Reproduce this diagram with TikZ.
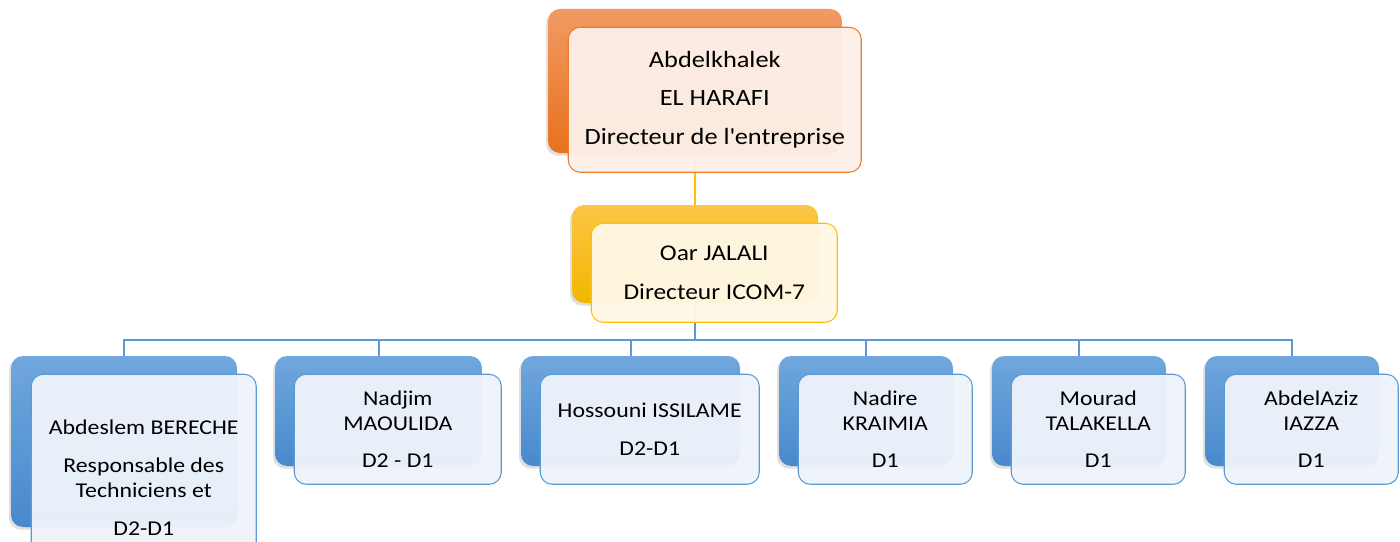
\documentclass[tikz,border=0pt]{standalone}
\usepackage{fontspec}
\setmainfont{Carlito}[FakeStretch=1.13]
\usetikzlibrary{positioning, shadows, backgrounds}
\definecolor{orangeA}{HTML}{F29A63}
\definecolor{orangeB}{HTML}{E8711D}
\definecolor{orangeL}{HTML}{ED7D31}
\definecolor{orangeF}{HTML}{FCEFE8}
\definecolor{goldA}{HTML}{FDC547}
\definecolor{goldB}{HTML}{F2B700}
\definecolor{goldL}{HTML}{FFC000}
\definecolor{goldF}{HTML}{FFF8E6}
\definecolor{blueA}{HTML}{70A7DD}
\definecolor{blueB}{HTML}{4889CC}
\definecolor{blueL}{HTML}{5B9BD5}
\definecolor{blueF}{HTML}{EEF3FA}
\tikzset{
    back/.style={rounded corners=9pt, inner sep=0pt,
        drop shadow={shadow xshift=-1.5pt, shadow yshift=-2pt, opacity=0.25}},
    front/.style={rounded corners=9pt, inner sep=0pt, draw, line width=0.8pt,
        fill opacity=0.96, text opacity=1, align=center},
    orangeback/.style={back, top color=orangeA, bottom color=orangeB},
    goldback/.style={back, top color=goldA, bottom color=goldB},
    blueback/.style={back, top color=blueA, bottom color=blueB},
    orangefront/.style={front, draw=orangeL, fill=orangeF, font=\fontsize{17.5}{21}\selectfont},
    goldfront/.style={front, draw=goldL, fill=goldF, font=\fontsize{16.9}{20}\selectfont},
    bluefront/.style={front, draw=blueL, fill=blueF, font=\fontsize{15.8}{18.75}\selectfont},
    goldlink/.style={draw=goldL, line width=1.5pt},
    bluelink/.style={draw=blueL, line width=1.5pt},
}

\begin{document}
\begin{tikzpicture}[x=0.75pt, y=-0.75pt]
    \useasboundingbox (0,0) rectangle (1400,542);

    \node[orangeback, minimum width=220.5pt, minimum height=108pt] (dir) at (695,81) {};
    \node[orangefront, minimum width=219.75pt, minimum height=108.75pt,
        below right=13.5pt and 15pt of dir.north west] (dirtxt)
        {Abdelkhalek\\[8pt] EL HARAFI\\[8pt] Directeur de l\textquotesingle entreprise};

    \node[goldback, minimum width=184.5pt, minimum height=73.5pt] (icom) at (695,254) {};
    \node[goldfront, minimum width=184.5pt, minimum height=74.25pt,
        below right=13.5pt and 14.25pt of icom.north west] (icomtxt)
        {Oar JALALI\\[9pt] Directeur ICOM-7};

    \coordinate (bus) at (695,340);

    \node[blueback, minimum width=169.5pt, minimum height=128.25pt] (t1) at (124,441.5) {};
    \node[blueback, minimum width=155.25pt, minimum height=82.5pt] (t2) at (378.5,411) {};
    \node[blueback, minimum width=164.25pt, minimum height=82.5pt] (t3) at (630.5,411) {};
    \node[blueback, minimum width=130.5pt, minimum height=82.5pt] (t4) at (866,411) {};
    \node[blueback, minimum width=130.5pt, minimum height=82.5pt] (t5) at (1079,411) {};
    \node[blueback, minimum width=130.5pt, minimum height=82.5pt] (t6) at (1292,411) {};

    \node[bluefront, minimum width=168.75pt, minimum height=155.25pt,
        below right=13.5pt and 15pt of t1.north west] (t1txt)
        {Abdeslem BERECHE\\[9.5pt] Responsable des\\ Techniciens et\\[9.5pt] D2-D1};
    \node[bluefront, minimum width=155.25pt, minimum height=82.5pt,
        below right=13.5pt and 14.25pt of t2.north west] (t2txt)
        {Nadjim\\ MAOULIDA\\[9.5pt] D2 - D1};
    \node[bluefront, minimum width=164.25pt, minimum height=82.5pt,
        below right=13.5pt and 14.25pt of t3.north west] (t3txt)
        {Hossouni ISSILAME\\[9.5pt] D2-D1};
    \node[bluefront, minimum width=130.5pt, minimum height=82.5pt,
        below right=13.5pt and 14.25pt of t4.north west] (t4txt)
        {Nadire\\ KRAIMIA\\[9.5pt] D1};
    \node[bluefront, minimum width=130.5pt, minimum height=82.5pt,
        below right=13.5pt and 14.25pt of t5.north west] (t5txt)
        {Mourad\\ TALAKELLA\\[9.5pt] D1};
    \node[bluefront, minimum width=130.5pt, minimum height=82.5pt,
        below right=13.5pt and 14.25pt of t6.north west] (t6txt)
        {AbdelAziz\\ IAZZA\\[9.5pt] D1};

    \begin{scope}[on background layer]
        \path[goldlink] (dir) -- (icom);
        \path[bluelink] (icom) -- (bus)
            (bus) -| (t1) (bus) -| (t2) (bus) -| (t3)
            (bus) -| (t4) (bus) -| (t5) (bus) -| (t6);
    \end{scope}
\end{tikzpicture}
\end{document}
